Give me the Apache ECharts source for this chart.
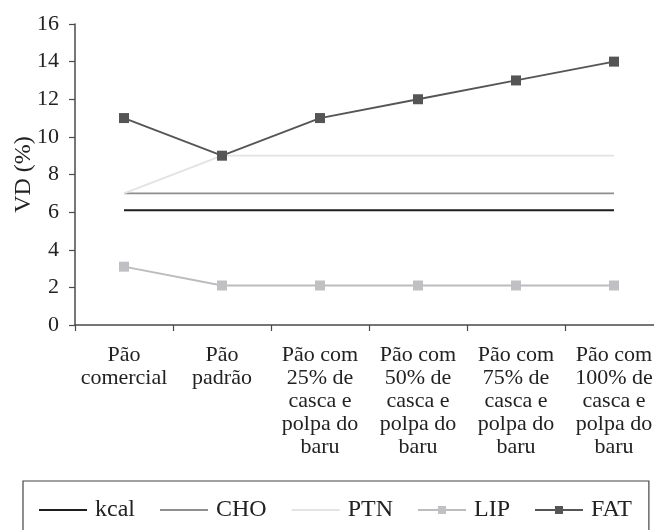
<!DOCTYPE html>
<html>
<head>
<meta charset="utf-8">
<script src="https://cdn.jsdelivr.net/npm/echarts@6/dist/echarts.min.js"></script>
<style>
html,body{margin:0;padding:0;background:#fff;}
#chart{width:654px;height:530px;}
</style>
</head>
<body>
<div id="chart"></div>
<script>
const categories = [
  "Pão\ncomercial",
  "Pão\npadrão",
  "Pão com\n25% de\ncasca e\npolpa do\nbaru",
  "Pão com\n50% de\ncasca e\npolpa do\nbaru",
  "Pão com\n75% de\ncasca e\npolpa do\nbaru",
  "Pão com\n100% de\ncasca e\npolpa do\nbaru"
];
const kcal = [6.1, 6.1, 6.1, 6.1, 6.1, 6.1];
const cho  = [7, 7, 7, 7, 7, 7];
const ptn  = [7, 9, 9, 9, 9, 9];
const lip  = [3.1, 2.1, 2.1, 2.1, 2.1, 2.1];
const fat  = [11, 9, 11, 12, 13, 14];
const yTicks = [0, 2, 4, 6, 8, 10, 12, 14, 16];

const FONT = 'Liberation Serif';
const axisColor = '#4a4a4a';

const chart = echarts.init(document.getElementById('chart'), null, {renderer: 'canvas'});

function lineSeries(name, data, color, width, withSymbol, symColor) {
  return {
    name: name,
    type: 'line',
    data: data,
    symbol: withSymbol ? 'rect' : 'none',
    symbolSize: 10,
    showSymbol: withSymbol,
    lineStyle: {color: color, width: width},
    itemStyle: {color: symColor || color},
    emphasis: {disabled: true},
    animation: false,
    z: withSymbol ? 3 : 2
  };
}

const hiddenIcon = {opacity: 0};

chart.setOption({
  animation: false,
  backgroundColor: '#fff',
  textStyle: {fontFamily: FONT},
  grid: {left: 75, top: 24, width: 588, height: 301, containLabel: false, outerBoundsMode: 'none'},
  xAxis: {
    type: 'category',
    data: categories,
    boundaryGap: true,
    axisLine: {lineStyle: {color: axisColor, width: 1.5}},
    axisTick: {show: true, inside: false, length: 6, alignWithLabel: false, lineStyle: {color: axisColor, width: 1.2}},
    axisLabel: {
      interval: 0,
      margin: 19,
      color: '#222',
      fontFamily: FONT,
      fontSize: 22,
      lineHeight: 23,
      align: 'center'
    },
    splitLine: {show: false}
  },
  yAxis: {
    type: 'value',
    min: yTicks[0],
    max: yTicks[yTicks.length - 1],
    interval: 2,
    name: 'VD (%)',
    nameLocation: 'middle',
    nameGap: 39,
    nameMoveOverlap: false,
    nameRotate: 90,
    nameTextStyle: {fontFamily: FONT, fontSize: 24, color: '#222'},
    axisLine: {show: true, lineStyle: {color: axisColor, width: 1.5}},
    axisTick: {show: true, inside: false, length: 6, lineStyle: {color: axisColor, width: 1.2}},
    axisLabel: {margin: 16, color: '#222', fontFamily: FONT, fontSize: 22},
    splitLine: {show: false}
  },
  legend: {
    left: 23,
    top: 481,
    orient: 'horizontal',
    padding: [17, 17, 30, 15],
    borderColor: '#444',
    borderWidth: 1.2,
    itemWidth: 48,
    itemHeight: 10,
    itemGap: 24,
    selectedMode: false,
    textStyle: {fontFamily: FONT, fontSize: 24, color: '#222', padding: [0, 0, 0, 3]},
    data: [
      {name: 'kcal', itemStyle: hiddenIcon},
      {name: 'CHO', itemStyle: hiddenIcon},
      {name: 'PTN', itemStyle: hiddenIcon},
      {name: 'LIP'},
      {name: 'FAT'}
    ]
  },
  series: [
    lineSeries('kcal', kcal, '#1e1e1e', 1.8, false),
    lineSeries('CHO', cho, '#8e8e8e', 1.8, false),
    lineSeries('PTN', ptn, '#e3e3e3', 1.8, false),
    lineSeries('LIP', lip, '#bcbcbc', 1.8, true, '#c0c0c4'),
    lineSeries('FAT', fat, '#555555', 1.8, true, '#555555')
  ]
});
</script>
</body>
</html>
